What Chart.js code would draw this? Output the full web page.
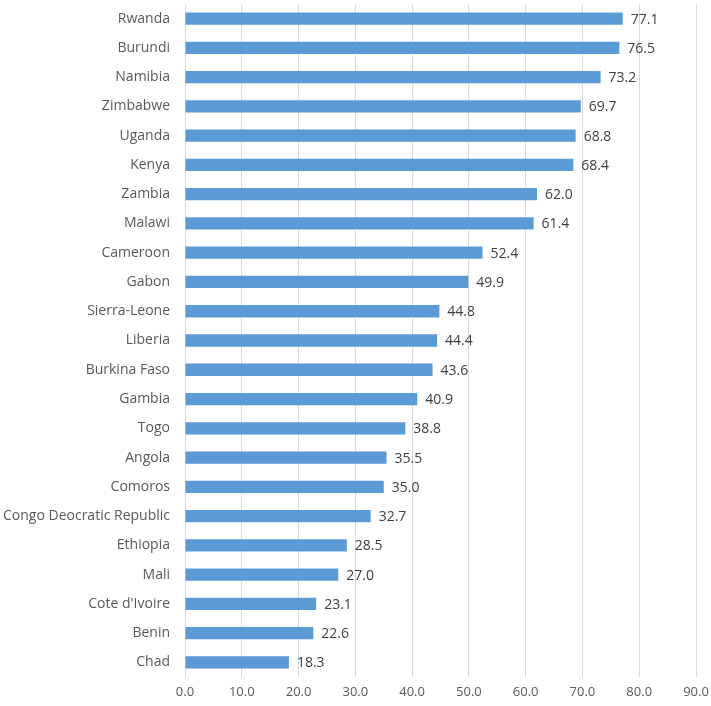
<!DOCTYPE html>
<html>
<head>
<meta charset="utf-8">
<script src="https://cdn.jsdelivr.net/npm/chart.js@4"></script>
<style>
  body { margin: 0; background: #fff; }
  #wrap { width: 711px; height: 706px; }
</style>
</head>
<body>
<div id="wrap"><canvas id="chart"></canvas></div>
<script>
const countries = ['Rwanda', 'Burundi', 'Namibia', 'Zimbabwe', 'Uganda', 'Kenya', 'Zambia', 'Malawi',
    'Cameroon', 'Gabon', 'Sierra-Leone', 'Liberia', 'Burkina Faso', 'Gambia', 'Togo', 'Angola',
    'Comoros', 'Congo Deocratic Republic', 'Ethiopia', 'Mali', "Cote d'Ivoire", 'Benin', 'Chad'];
const values = [77.1, 76.5, 73.2, 69.7, 68.8, 68.4, 62.0, 61.4, 52.4, 49.9, 44.8, 44.4, 43.6,
    40.9, 38.8, 35.5, 35.0, 32.7, 28.5, 27.0, 23.1, 22.6, 18.3];
const axisMin = 0;
const axisMax = 90;
const axisStep = 10;

// value labels at the end of each bar
const barLabels = {
    id: 'barLabels',
    afterDatasetsDraw(chart) {
        const ctx = chart.ctx;
        const meta = chart.getDatasetMeta(0);
        ctx.save();
        ctx.font = '14px "Open Sans"';
        ctx.fillStyle = '#404040';
        ctx.textAlign = 'left';
        ctx.textBaseline = 'middle';
        meta.data.forEach((bar, i) => {
            ctx.fillText(values[i].toFixed(1), bar.x + 8, bar.y + 1);
        });
        ctx.restore();
    }
};

new Chart(document.getElementById('chart').getContext('2d'), {
    type: 'bar',
    data: {
        labels: countries,
        datasets: [{
            data: values,
            backgroundColor: '#5B9BD5',
            barPercentage: 0.42,
            categoryPercentage: 1.0
        }]
    },
    options: {
        indexAxis: 'y',
        responsive: true,
        maintainAspectRatio: false,
        animation: false,
        layout: { padding: { top: 4, right: 15, left: 0, bottom: 0 } },
        plugins: {
            legend: { display: false },
            tooltip: { enabled: false }
        },
        scales: {
            x: {
                min: axisMin,
                max: axisMax,
                grid: { color: '#d9d9d9', drawTicks: false },
                border: { display: false },
                afterFit(scale) {
                    scale.height = 29;
                    scale.paddingRight = 0;
                    scale.paddingLeft = 0;
                },
                ticks: {
                    stepSize: axisStep,
                    padding: 7,
                    color: '#595959',
                    font: { family: 'Open Sans', size: 13 },
                    callback: v => v.toFixed(1)
                }
            },
            y: {
                grid: { display: false, drawTicks: false },
                border: { display: false },
                afterFit(scale) {
                    scale.width = 185;
                    scale.paddingTop = 0;
                    scale.paddingBottom = 0;
                },
                ticks: {
                    padding: 15,
                    color: '#595959',
                    autoSkip: false,
                    font: { family: 'Open Sans', size: 14 }
                }
            }
        }
    },
    plugins: [barLabels]
});
</script>
</body>
</html>
